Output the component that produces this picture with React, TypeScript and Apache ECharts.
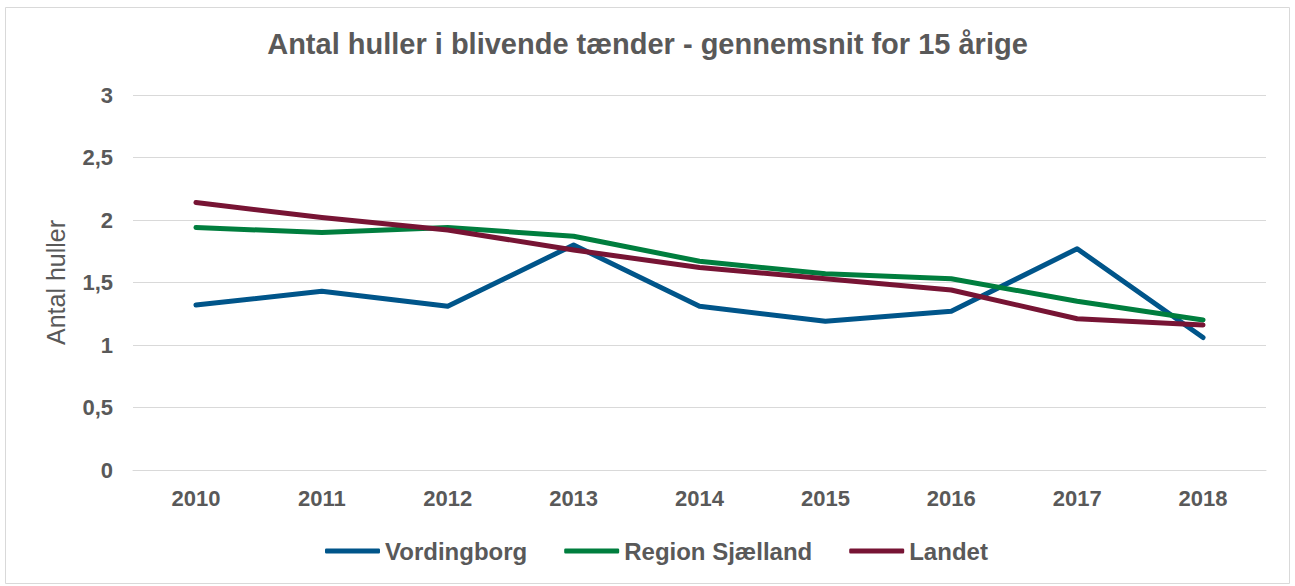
import React, { useEffect, useRef } from "react";
import * as echarts from "echarts";

const years = ["2010", "2011", "2012", "2013", "2014", "2015", "2016", "2017", "2018"];
const vordingborg = [1.32, 1.43, 1.31, 1.8, 1.31, 1.19, 1.27, 1.77, 1.06];
const regionSjaelland = [1.94, 1.9, 1.94, 1.87, 1.67, 1.57, 1.53, 1.35, 1.2];
const landet = [2.14, 2.02, 1.92, 1.76, 1.62, 1.53, 1.44, 1.21, 1.16];
const seriesNames = ["Vordingborg", "Region Sjælland", "Landet"];
const colors = ["#00558A", "#007E3E", "#771434"];

export default function App() {
  const ref = useRef<HTMLDivElement>(null);
  useEffect(() => {
    if (!ref.current) return;
    const chart = echarts.init(ref.current, undefined, { renderer: "svg" });
    const font = "'Liberation Sans', Arial, sans-serif";
    const dataSets = [vordingborg, regionSjaelland, landet];
    chart.setOption({
      animation: false,
      backgroundColor: "#ffffff",
      textStyle: { fontFamily: font },
      graphic: [
        {
          type: "rect",
          shape: { x: 5.5, y: 7.5, width: 1284, height: 576 },
          style: { fill: "none", stroke: "#d9d9d9", lineWidth: 1 },
          silent: true,
        },
      ],
      title: {
        text: "Antal huller i blivende tænder - gennemsnit for 15 årige",
        left: "center",
        top: 24,
        textStyle: { fontFamily: font, fontSize: 29, fontWeight: "bold", color: "#595959" },
      },
      legend: {
        bottom: 18,
        left: 320,
        icon: "roundRect",
        itemWidth: 55,
        itemHeight: 5,
        itemGap: 37,
        textStyle: { fontFamily: font, fontSize: 24, fontWeight: "bold", color: "#595959" },
        data: seriesNames,
      },
      grid: { left: 133, right: 29, top: 95, bottom: 116, containLabel: false },
      xAxis: {
        type: "category",
        data: years,
        boundaryGap: true,
        axisLine: { show: true, lineStyle: { color: "#d9d9d9", width: 1 } },
        axisTick: { show: false },
        axisLabel: { fontFamily: font, fontSize: 22, fontWeight: "bold", color: "#595959", margin: 17 },
      },
      yAxis: {
        type: "value",
        min: 0,
        max: 3,
        interval: 0.5,
        name: "Antal huller",
        nameLocation: "middle",
        nameGap: 65,
        nameTextStyle: { fontFamily: font, fontSize: 25, color: "#595959" },
        axisLine: { show: false },
        axisTick: { show: false },
        splitLine: { lineStyle: { color: "#d9d9d9", width: 1 } },
        axisLabel: {
          fontFamily: font,
          fontSize: 22,
          fontWeight: "bold",
          color: "#595959",
          margin: 20,
          formatter: (v: number) => String(v).replace(".", ","),
        },
      },
      series: seriesNames.map((name, i) => ({
        name,
        type: "line",
        data: dataSets[i],
        symbol: "none",
        lineStyle: { color: colors[i], width: 5, cap: "round", join: "round" },
        itemStyle: { color: colors[i] },
      })),
    });
    return () => chart.dispose();
  }, []);
  return <div ref={ref} style={{ position: "absolute", left: 0, top: 0, width: 1295, height: 586 }} />;
}
